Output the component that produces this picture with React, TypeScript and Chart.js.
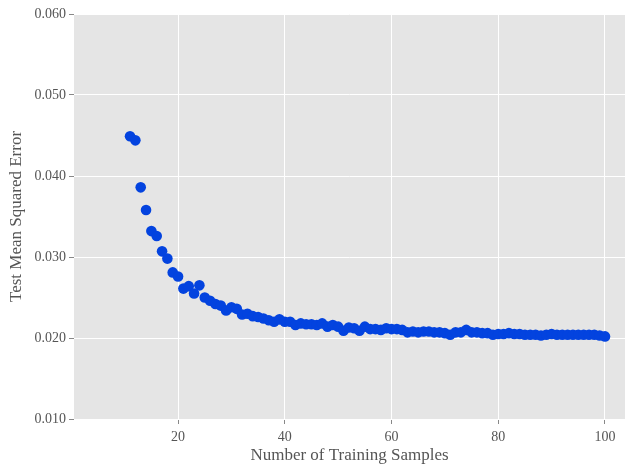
import React, { useEffect, useRef } from "react";
import { Chart, registerables } from "chart.js";

Chart.register(...registerables);

const samples: number[] = Array.from({ length: 90 }, (_, i) => i + 11);
const testMSE: number[] = [
  0.0449, 0.0444, 0.0386, 0.0358, 0.0332, 0.0326, 0.0307, 0.0298, 0.0281, 0.0276,
  0.0261, 0.0264, 0.0255, 0.0265, 0.0250, 0.0246, 0.0242, 0.0240, 0.0234, 0.0238,
  0.0236, 0.0229, 0.0230, 0.0227, 0.0226, 0.0224, 0.0222, 0.0220, 0.0223, 0.0220,
  0.0220, 0.0216, 0.0218, 0.0217, 0.0217, 0.0216, 0.0218, 0.0214, 0.0216, 0.0214,
  0.0209, 0.0213, 0.0212, 0.0209, 0.0214, 0.0211, 0.0211, 0.0210, 0.0212, 0.0211,
  0.0211, 0.0210, 0.0207, 0.0208, 0.0207, 0.0208, 0.0208, 0.0207, 0.0207, 0.0206,
  0.0204, 0.0207, 0.0207, 0.0210, 0.0207, 0.0207, 0.0206, 0.0206, 0.0204, 0.0205,
  0.0205, 0.0206, 0.0205, 0.0205, 0.0204, 0.0204, 0.0204, 0.0203, 0.0204, 0.0205,
  0.0204, 0.0204, 0.0204, 0.0204, 0.0204, 0.0204, 0.0204, 0.0204, 0.0203, 0.0202,
];
const xTicks: number[] = [20, 40, 60, 80, 100];
const yTicks: number[] = [0.01, 0.02, 0.03, 0.04, 0.05, 0.06];

const FONT = "'Liberation Serif', 'Times New Roman', serif";

const bgPlugin = {
  id: "plotBg",
  beforeDraw(chart: any) {
    const { ctx, chartArea } = chart;
    if (!chartArea) return;
    ctx.save();
    ctx.fillStyle = "#E5E5E5";
    ctx.fillRect(chartArea.left, chartArea.top, chartArea.right - chartArea.left, chartArea.bottom - chartArea.top);
    ctx.restore();
  },
};

export default function App() {
  const ref = useRef<HTMLCanvasElement | null>(null);
  useEffect(() => {
    document.body.style.margin = "0";
    if (!ref.current) return;
    const chart = new Chart(ref.current, {
      type: "scatter",
      data: {
        datasets: [
          {
            data: samples.map((x, i) => ({ x, y: testMSE[i] })),
            backgroundColor: "#0343DF",
            borderColor: "#0343DF",
            borderWidth: 0,
            pointRadius: 5.3,
          },
        ],
      },
      options: {
        responsive: false,
        animation: false,
        layout: { autoPadding: false, padding: { top: 14, right: 1, left: 0, bottom: 0 } },
        plugins: { legend: { display: false }, tooltip: { enabled: false } },
        scales: {
          x: {
            type: "linear",
            min: 0.5,
            max: 103.75,
            afterBuildTicks: (s: any) => {
              s.ticks = xTicks.map((v) => ({ value: v }));
            },
            afterFit: (s: any) => {
              s.height = 47;
              s.paddingLeft = 0;
              s.paddingRight = 0;
            },
            grid: { color: "#FFFFFF", lineWidth: 1, tickColor: "#888888", tickLength: 5, drawTicks: true },
            border: { display: false },
            ticks: { color: "#555555", font: { family: FONT, size: 14 }, padding: 5, callback: (v: any) => String(v) },
            title: { display: true, text: "Number of Training Samples", color: "#555555", font: { family: FONT, size: 17 }, padding: { top: 0, bottom: 0 } },
          },
          y: {
            type: "linear",
            min: 0.01,
            max: 0.06,
            afterBuildTicks: (s: any) => {
              s.ticks = yTicks.map((v) => ({ value: v }));
            },
            afterFit: (s: any) => {
              s.width = 74;
              s.paddingTop = 0;
              s.paddingBottom = 0;
            },
            grid: { color: "#FFFFFF", lineWidth: 1, tickColor: "#888888", tickLength: 5, drawTicks: true },
            border: { display: false },
            ticks: { color: "#555555", font: { family: FONT, size: 14 }, padding: 3, callback: (v: any) => Number(v).toFixed(3) },
            title: { display: true, text: "Test Mean Squared Error", color: "#555555", font: { family: FONT, size: 17 }, padding: { top: 6, bottom: 4 } },
          },
        },
      },
      plugins: [bgPlugin],
    });
    return () => chart.destroy();
  }, []);
  return (
    <div style={{ position: "absolute", left: 0, top: 0, width: 626, height: 466 }}>
      <canvas ref={ref} width={626} height={466} style={{ width: 626, height: 466 }} />
    </div>
  );
}
